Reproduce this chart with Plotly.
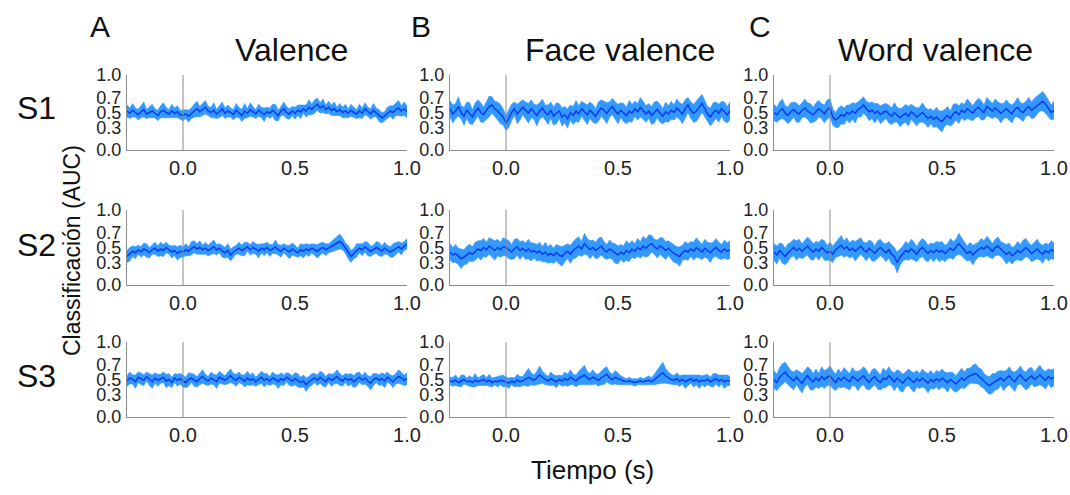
import numpy as np
import plotly.graph_objects as go

# ---------------- data (AUC x 100), time from -0.25 s to 1.0 s, 101 samples ----------------
t_start, t_end, n_samples = -0.25, 1.0, 101

columns = ["Valence", "Face valence", "Word valence"]
column_letters = ["A", "B", "C"]
subjects = ["S1", "S2", "S3"]
x_tick_vals = [0.0, 0.5, 1.0]
x_tick_text = ["0.0", "0.5", "1.0"]
y_tick_vals = [0.0, 0.3, 0.5, 0.7, 1.0]
y_tick_text = ["0.0", "0.3", "0.5", "0.7", "1.0"]

s1_valence_mean = [52,49,53,50,47,51,54,48,50,52,49,46,51,53,50,48,52,49,51,47,
                   46,48,45,49,52,55,51,54,57,52,50,53,48,51,55,49,52,50,47,53,
                   50,46,52,49,54,51,48,53,50,47,51,49,53,50,46,52,55,50,48,52,
                   49,53,51,55,52,57,54,58,61,56,59,54,57,53,55,51,54,50,52,49,
                   53,50,48,52,49,55,51,48,53,50,46,43,45,49,52,50,54,56,52,55,51]
s1_valence_sem = [8,7,9,6,7,8,10,6,7,9,6,7,8,10,7,6,9,7,8,6,
                  7,6,8,7,9,10,7,8,9,6,7,10,6,8,9,7,8,6,7,9,
                  7,8,10,6,9,7,6,8,7,9,6,7,8,11,7,6,9,8,7,6,
                  8,7,9,6,8,10,7,9,8,7,9,6,8,7,9,6,8,7,9,6,
                  8,7,6,9,7,8,6,7,9,6,8,7,6,8,7,9,8,10,7,9,8]

s1_face_mean = [55,48,52,58,50,45,53,49,44,51,56,50,47,53,58,60,55,52,48,44,
                36,42,50,55,48,52,57,53,49,55,51,46,52,56,50,47,53,45,49,52,
                44,47,42,50,46,52,48,55,51,47,53,49,45,51,56,53,49,54,58,52,
                48,53,50,46,52,49,55,51,57,53,48,52,46,50,54,49,45,51,48,53,
                50,56,52,48,55,60,53,49,52,57,62,55,48,44,50,53,49,55,51,47,52]
s1_face_sem = [11,12,10,13,9,12,11,14,10,12,11,13,10,12,14,11,10,12,13,11,
               10,12,11,9,13,12,10,11,13,12,10,14,11,12,10,13,11,12,14,10,
               12,11,13,10,12,14,11,10,12,13,11,12,10,13,11,12,14,10,11,12,
               13,10,12,11,14,12,10,11,13,12,11,10,12,14,11,12,10,13,11,12,
               10,12,11,13,12,10,11,12,14,13,12,11,10,12,13,11,12,10,13,11,12]

s1_word_mean = [50,47,52,55,49,46,51,54,50,48,53,56,52,49,47,51,55,52,48,54,
                56,44,40,43,47,45,50,48,52,49,54,56,60,55,51,53,49,52,47,50,
                52,48,45,50,47,43,46,49,45,51,48,44,47,50,46,42,45,41,44,40,
                38,43,46,42,48,51,47,53,50,55,52,49,54,57,53,50,58,55,52,56,
                53,49,52,55,51,48,54,57,52,50,55,58,53,56,60,63,65,61,55,50,53]
s1_word_sem = [11,10,12,13,10,11,12,10,13,11,10,12,11,13,10,12,11,10,12,13,
               12,11,10,13,12,11,10,12,11,13,10,12,11,10,12,11,13,10,12,11,
               10,12,11,13,10,12,11,12,13,10,11,12,10,13,11,12,10,11,13,12,
               14,11,12,10,13,11,12,10,11,13,12,10,11,12,13,10,12,11,10,12,
               11,13,10,12,11,12,10,13,11,12,10,12,11,13,12,11,13,12,11,10,12]

s2_valence_mean = [38,41,45,43,47,44,48,46,43,47,49,45,48,46,50,47,44,46,42,45,
                   44,47,45,49,51,48,50,47,49,46,48,51,47,49,45,43,46,40,44,47,
                   49,46,48,51,47,50,48,45,49,47,50,46,48,51,47,45,49,46,44,48,
                   46,43,47,45,48,46,49,47,45,48,50,47,49,51,53,56,58,55,49,44,
                   38,42,46,49,47,51,48,45,47,50,48,45,49,47,44,46,49,51,48,52,55]
s2_valence_sem = [8,9,7,8,6,7,8,9,7,6,8,7,9,8,7,6,8,7,9,8,
                  7,8,6,9,8,7,9,6,8,7,8,9,7,6,8,7,9,8,7,6,
                  8,7,9,6,7,8,7,9,6,8,7,8,6,9,7,8,6,7,9,8,
                  7,6,8,9,7,8,6,7,9,8,7,8,6,7,8,9,10,8,7,9,
                  8,7,9,6,8,7,9,7,6,8,9,7,8,6,7,9,8,7,8,6,7]

s2_face_mean = [44,40,42,38,35,37,40,43,41,45,48,46,50,47,52,49,46,50,47,51,
                50,47,44,48,51,46,49,45,48,44,46,43,45,41,44,40,42,39,43,40,
                38,42,45,41,46,49,52,48,55,51,47,50,46,49,52,47,44,48,45,42,
                40,44,41,46,43,48,45,50,47,52,49,53,55,51,48,52,50,46,49,45,
                42,40,38,43,46,44,48,45,50,47,44,49,46,43,47,50,46,44,48,45,47]
s2_face_sem = [11,10,12,11,13,10,12,11,10,12,11,13,12,10,11,12,13,11,10,12,
               11,12,10,13,11,12,10,11,13,12,10,11,12,10,13,11,12,10,11,12,
               13,11,10,12,11,13,12,10,14,11,12,10,11,13,12,11,10,12,11,13,
               12,10,11,13,12,11,10,12,11,13,12,14,11,10,12,11,13,12,10,11,
               12,11,13,10,12,11,10,12,13,11,10,12,11,13,10,12,11,10,12,11,12]

s2_word_mean = [44,40,46,42,38,43,47,50,46,49,45,48,52,47,44,48,45,50,46,43,
                45,41,47,50,53,48,51,46,49,45,48,52,47,44,49,45,42,47,50,46,
                43,47,41,38,30,37,42,46,44,48,45,41,47,50,46,42,46,43,47,44,
                46,42,45,49,46,50,55,51,46,42,45,40,44,47,50,48,52,49,45,50,
                52,48,45,41,44,39,42,46,43,47,50,46,42,45,48,44,41,46,43,47,45]
s2_word_sem = [11,12,10,13,11,12,10,11,13,12,10,11,12,13,11,10,12,11,13,10,
               12,11,10,12,13,11,12,10,11,13,12,11,10,12,11,13,10,12,11,10,
               12,11,13,12,14,11,10,12,11,13,12,10,11,12,13,11,10,12,11,13,
               12,11,10,13,12,11,14,12,11,10,12,13,11,10,12,11,13,12,10,11,
               12,10,11,13,12,11,10,12,11,13,12,10,11,12,13,11,12,10,11,12,11]

s3_valence_mean = [48,52,50,47,53,51,49,54,50,47,52,49,51,53,48,50,46,52,49,51,
                   48,46,50,52,49,47,51,54,50,48,52,50,47,53,51,49,52,55,51,49,
                   53,50,48,52,49,51,47,50,53,49,51,48,52,50,47,51,49,53,50,48,
                   51,49,46,48,43,47,50,52,49,53,50,47,52,49,51,54,50,48,52,49,
                   51,47,50,53,49,52,48,45,50,52,49,51,48,53,50,47,51,54,52,49,51]
s3_valence_sem = [7,8,6,9,7,8,7,6,8,9,7,8,6,7,9,8,7,6,8,7,
                  8,7,9,6,8,7,8,9,7,6,8,7,9,8,7,6,8,9,7,8,
                  7,6,8,9,7,8,6,7,8,9,7,6,8,7,9,8,7,6,8,7,
                  8,9,7,8,9,7,8,6,7,8,9,7,6,8,7,9,8,7,6,8,
                  7,8,9,7,6,8,7,9,8,6,7,8,9,7,6,8,7,9,8,7,8]

s3_face_mean = [48,47,49,46,48,50,47,48,46,49,47,48,50,47,49,46,48,47,49,48,
                47,45,48,46,49,47,48,50,53,51,49,52,56,53,50,48,51,49,47,50,
                48,51,49,53,50,48,52,54,56,52,50,53,51,49,52,54,57,52,50,53,
                51,49,48,47,48,47,46,47,48,47,48,49,47,50,53,56,59,55,52,50,
                49,51,48,50,47,49,51,48,50,47,49,48,50,47,49,51,48,50,47,49,48]
s3_face_sem = [5,6,7,5,8,6,5,7,6,9,5,6,7,5,8,6,5,7,6,8,
               6,7,5,6,8,7,6,9,12,8,7,9,12,8,7,6,9,7,8,6,
               7,9,8,10,7,8,9,11,13,9,8,10,7,8,9,11,10,8,7,9,
               8,6,5,4,5,4,5,4,5,4,5,6,5,7,9,11,14,10,8,7,
               6,8,7,6,9,7,6,8,7,9,6,8,7,6,9,7,8,6,9,7,6]

s3_word_mean = [50,46,53,57,60,55,51,48,53,49,45,51,55,50,47,52,48,54,50,53,
                55,50,46,52,49,53,50,47,54,51,48,52,55,50,46,51,54,49,46,52,
                50,55,51,47,52,48,45,50,53,49,46,51,48,52,49,45,50,47,51,48,
                52,49,46,50,47,44,48,52,49,53,55,57,58,55,52,48,44,42,45,47,
                49,52,48,51,55,50,47,53,56,51,48,52,55,50,53,56,52,49,54,51,53]
s3_word_sem = [12,11,13,14,13,12,11,12,10,12,13,11,12,14,11,12,10,13,12,11,
               13,12,11,12,10,13,12,11,12,10,13,11,12,13,10,12,11,12,10,13,
               11,12,10,12,11,13,12,10,11,12,13,11,10,12,11,13,12,10,11,12,
               12,11,13,10,12,11,12,13,11,12,10,12,13,11,12,10,11,12,13,11,
               12,10,13,11,12,11,13,10,12,11,12,13,11,10,12,13,11,12,10,12,11]

panels = [
    [(s1_valence_mean, s1_valence_sem), (s1_face_mean, s1_face_sem), (s1_word_mean, s1_word_sem)],
    [(s2_valence_mean, s2_valence_sem), (s2_face_mean, s2_face_sem), (s2_word_mean, s2_word_sem)],
    [(s3_valence_mean, s3_valence_sem), (s3_face_mean, s3_face_sem), (s3_word_mean, s3_word_sem)],
]

# ---------------- layout geometry (window pixels; body margin removed in the page) ----------------
W, H = 1070, 495
col_px = [(127, 407), (450, 730), (774, 1054)]
row_px = [(75, 150), (210, 285), (342, 417)]


def fx(px):
    return px / W


def fy(py):
    return 1 - py / H


BAND = "#3399ff"
LINE = "#0a3cf2"
AXIS = "#8c8c8c"
FONT = "Arial, Liberation Sans, sans-serif"

time = np.linspace(t_start, t_end, n_samples)

fig = go.Figure()
layout = {}
shapes = []
for r in range(3):
    for c in range(3):
        k = r * 3 + c + 1
        xa = "x" if k == 1 else f"x{k}"
        ya = "y" if k == 1 else f"y{k}"
        mean, sem = panels[r][c]
        m = np.array(mean) / 100.0
        s = np.array(sem) / 100.0
        fig.add_trace(go.Scatter(x=time, y=m + s, mode="lines", line=dict(color=BAND, width=0.6),
                                 xaxis=xa, yaxis=ya, showlegend=False, hoverinfo="skip"))
        fig.add_trace(go.Scatter(x=time, y=m - s, mode="lines", line=dict(color=BAND, width=0.6),
                                 fill="tonexty", fillcolor=BAND,
                                 xaxis=xa, yaxis=ya, showlegend=False, hoverinfo="skip"))
        fig.add_trace(go.Scatter(x=time, y=m, mode="lines", line=dict(color=LINE, width=1.5),
                                 xaxis=xa, yaxis=ya, showlegend=False))
        x0, x1 = col_px[c]
        y0, y1 = row_px[r]
        xkey = "xaxis" if k == 1 else f"xaxis{k}"
        ykey = "yaxis" if k == 1 else f"yaxis{k}"
        layout[xkey] = dict(domain=[fx(x0), fx(x1)], range=[t_start, t_end], anchor=ya,
                            showline=True, linecolor=AXIS, linewidth=1, showgrid=False,
                            zeroline=False, ticks="", tickvals=x_tick_vals, ticktext=x_tick_text,
                            automargin=False, ticklabelstandoff=0,
                            tickfont=dict(size=20, color="#222", family=FONT))
        layout[ykey] = dict(domain=[fy(y1), fy(y0)], range=[0, 1.0], anchor=xa,
                            showline=True, linecolor=AXIS, linewidth=1, showgrid=False,
                            zeroline=False, ticks="", tickvals=y_tick_vals, ticktext=y_tick_text,
                            automargin=False,
                            tickfont=dict(size=18, color="#222", family=FONT), ticklabelstandoff=1)
        shapes.append(dict(type="line", xref=xa, yref=f"{ya} domain", x0=0, x1=0, y0=0, y1=1,
                           line=dict(color=AXIS, width=1), layer="above"))

annotations = []


def add_text(text, px, py, size, angle=0):
    annotations.append(dict(text=text, x=fx(px), y=fy(py), xref="paper", yref="paper",
                            xanchor="center", yanchor="middle", showarrow=False, textangle=angle,
                            font=dict(size=size, color="#111", family=FONT)))


letter_px = [(100, 26), (421, 26), (760, 26)]
title_px = [(291, 50), (620, 50), (935, 50)]
for i in range(3):
    add_text(column_letters[i], letter_px[i][0], letter_px[i][1], 30)
    add_text(columns[i], title_px[i][0], title_px[i][1], 32)
row_label_py = [108, 245, 376]
for i in range(3):
    add_text(subjects[i], 36, row_label_py[i], 32)
add_text("Classificación (AUC)", 72, 251, 23, angle=-90)
add_text("Tiempo (s)", 592, 470, 26)

fig.update_layout(width=W, height=H, margin=dict(l=0, r=0, t=0, b=0, pad=0, autoexpand=False),
                  paper_bgcolor="white", plot_bgcolor="white",
                  shapes=shapes, annotations=annotations, **layout)
fig.write_html("out.html", config={"displayModeBar": False},
               post_script="document.body.style.margin='0px';"
                           "document.body.style.overflow='hidden';"
                           "document.documentElement.style.overflow='hidden';")
